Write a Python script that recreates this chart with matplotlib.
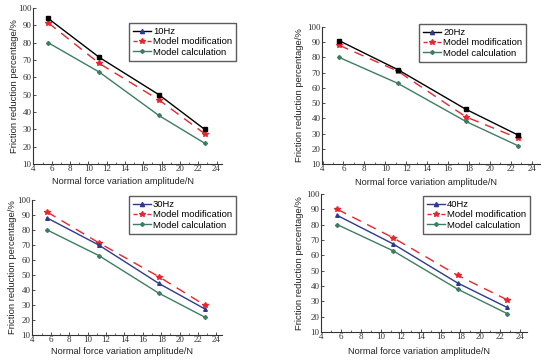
import numpy as np
import matplotlib
matplotlib.use('Agg')
import matplotlib.pyplot as plt
from matplotlib.lines import Line2D
from matplotlib.ticker import MultipleLocator

# amplitude of normal force variation (N)
force = [5.6, 11.2, 17.7, 22.7]

# model calculation is the same curve in every panel
calc = [80, 63, 38, 22]

freqs = ['10Hz', '20Hz', '30Hz', '40Hz']
exp_10 = [94, 71.5, 50, 30]
exp_20 = [91, 72, 46, 29]
exp_30 = [88, 70, 44.5, 27.5]
exp_40 = [86, 67.5, 42, 26]
mod_10 = [91.5, 68, 47, 27.5]
mod_20 = [88, 71, 41, 27]
mod_30 = [92, 71.5, 49, 30]
mod_40 = [90, 71.5, 47, 31]

exps = [exp_10, exp_20, exp_30, exp_40]
mods = [mod_10, mod_20, mod_30, mod_40]

W, H = 550, 362
# pixel boxes: (left, top, right, bottom), xmax, xlabel y, ylabel x, legend box (l, t)
panels = [
    ((33, 8, 222, 164), 24.6, 181, 15, (129, 23)),
    ((322, 27, 540, 164), 24.8, 182, 300, (419, 24)),
    ((32, 200, 222, 335), 24.6, 352, 13, (129, 196)),
    ((321, 194, 527, 332), 24.7, 352, 300, (423, 196)),
]

plt.rcParams['font.family'] = ['Liberation Sans', 'DejaVu Sans']
fig = plt.figure(figsize=(W / 100, H / 100), dpi=100)
fig.patch.set_facecolor('white')

red = '#e8262d'
green = '#3d7d62'
navy = '#2e3a8c'

for i, (box, xmax, xly, ylx, lbox) in enumerate(panels):
    l, t, r, b = box
    ax = fig.add_axes([l / W, 1 - b / H, (r - l) / W, (b - t) / H])
    expcol = 'black' if i < 2 else navy
    expmk = 's' if i < 2 else '^'
    ax.plot(force, exps[i], color=expcol, lw=1.0, marker=expmk, ms=2.6, zorder=3)
    ax.plot(force, mods[i], color=red, lw=1.0, ls=(0, (7, 5)), marker='*', ms=4.2, zorder=2)
    ax.plot(force, calc, color=green, lw=1.0, marker='D', ms=2.0, zorder=1)

    ax.set_xlim(3.95, xmax)
    ax.set_ylim(10, 100)
    ax.set_xticks(np.arange(4, 25, 2))
    ax.set_yticks(np.arange(10, 101, 10))
    ax.xaxis.set_minor_locator(MultipleLocator(1))
    ax.tick_params(axis='both', which='major', direction='in', length=2, width=0.6,
                   labelsize=6.5, pad=1.0, colors='#333333')
    ax.tick_params(axis='x', which='minor', direction='in', length=1.2, width=0.5, colors='#333333')
    for lab in ax.get_xticklabels() + ax.get_yticklabels():
        lab.set_family('Liberation Serif')
    for s in ['top', 'right']:
        ax.spines[s].set_visible(False)
    for s in ['left', 'bottom']:
        ax.spines[s].set_linewidth(0.8)
        ax.spines[s].set_color('#333333')

    fig.text(((l + r) / 2 - 5) / W, 1 - xly / H, 'Normal force variation amplitude/N',
             ha='center', va='center', fontsize=6.6, color='#222222')
    fig.text(ylx / W, 1 - (t + b) / 2 / H, 'Friction reduction percentage/%',
             ha='center', va='center', rotation=90, fontsize=6.8, color='#222222')

    handles = [
        Line2D([], [], color=expcol, lw=1.0, marker='^', ms=3, mfc=navy, mec=navy),
        Line2D([], [], color=red, lw=1.0, ls=(0, (3, 2)), marker='*', ms=4),
        Line2D([], [], color=green, lw=1.0, marker='D', ms=2),
    ]
    leg = ax.legend(handles, [freqs[i], 'Model modification', 'Model calculation'],
                    loc='upper left', bbox_to_anchor=(lbox[0] / W, 1 - lbox[1] / H),
                    bbox_transform=fig.transFigure, fontsize=6.8, frameon=True,
                    fancybox=False, handlelength=1.9, handletextpad=0.2,
                    labelspacing=0.12, borderpad=0.45, borderaxespad=0)
    leg.get_frame().set_edgecolor('#333333')
    leg.get_frame().set_linewidth(1.0)

fig.savefig('out.png', dpi=100, facecolor='white')
